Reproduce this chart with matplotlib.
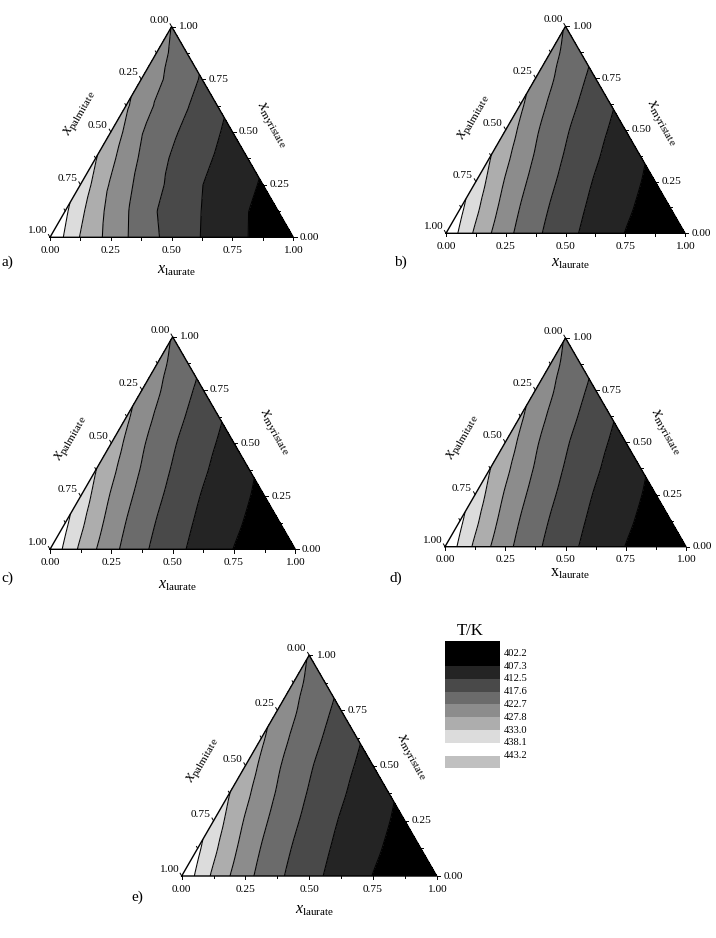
import numpy as np
import matplotlib
matplotlib.use("Agg")
import matplotlib.pyplot as plt
import matplotlib.tri as mtri

plt.rcParams["font.family"] = ["Liberation Serif", "DejaVu Serif"]
plt.rcParams["mathtext.fontset"] = "custom"
plt.rcParams["mathtext.rm"] = "Liberation Serif"
plt.rcParams["mathtext.it"] = "Liberation Serif:italic"

# contour levels (T/K) and the grey used for each band (below first .. above last)
LEVELS = [402.2, 407.3, 412.5, 417.6, 422.7, 427.8, 433.0, 438.1, 443.2]
BAND_COLORS = ["#000000", "#000000", "#242424", "#494949", "#6b6b6b",
               "#8c8c8c", "#adadad", "#dcdcdc", "#ffffff", "#c0c0c0"]

# composition grid: row j has x_myristate = X_MYRISTATE[j],
# entries i have x_laurate = X_LAURATE[i] (x_palmitate = 1 - the two)
X_MYRISTATE = [0.0, 0.125, 0.25, 0.375, 0.5, 0.625, 0.75, 0.875, 1.0]
X_LAURATE = [0.0, 0.125, 0.25, 0.375, 0.5, 0.625, 0.75, 0.875, 1.0]

# T/K read off panel a)
T_A = [
    [442.3, 432.7, 425.9, 420.3, 415.8, 412.3, 409.0, 405.7, 403.0],
    [439.0, 429.6, 423.2, 417.7, 414.1, 410.7, 407.4, 404.9],
    [436.1, 427.2, 421.0, 416.5, 412.6, 409.6, 406.8],
    [433.3, 425.0, 419.2, 415.3, 412.0, 408.9],
    [430.9, 423.0, 418.4, 414.7, 411.1],
    [428.5, 422.1, 417.9, 413.7],
    [426.4, 421.3, 417.1],
    [424.5, 419.9],
    [422.6],
]

# T/K read off panels b) - e) (they are practically the same)
T_B = [
    [442.3, 432.0, 424.4, 418.7, 414.2, 410.5, 407.2, 404.8, 402.3],
    [439.1, 429.7, 422.5, 417.3, 413.1, 409.7, 406.7, 404.2],
    [436.0, 427.3, 421.0, 416.2, 412.1, 408.9, 406.0],
    [433.1, 425.4, 419.6, 415.1, 411.3, 408.0],
    [430.7, 423.4, 418.2, 414.0, 410.5],
    [428.6, 421.9, 417.2, 413.1],
    [426.5, 420.6, 416.2],
    [424.3, 419.4],
    [422.4],
]
T_C = T_B
T_D = T_B
T_E = T_B

TICKS = [0.0, 0.125, 0.25, 0.375, 0.5, 0.625, 0.75, 0.875, 1.0]
H = np.sqrt(3) / 2
W, HGT = 716, 938


def px(v):
    return v * 0.72


def to_xy(lau, myr):
    return lau + 0.5 * myr, H * myr


def build_grid(temps):
    xs, ys, vals, index = [], [], [], {}
    for j, row in enumerate(temps):
        for i, t in enumerate(row):
            x, y = to_xy(X_LAURATE[i], X_MYRISTATE[j])
            index[(i, j)] = len(xs)
            xs.append(x)
            ys.append(y)
            vals.append(t)
    n = len(temps) - 1
    tris = []
    for j in range(n):
        for i in range(n - j):
            tris.append([index[(i, j)], index[(i + 1, j)], index[(i, j + 1)]])
            if i + j < n - 1:
                tris.append([index[(i + 1, j)], index[(i + 1, j + 1)], index[(i, j + 1)]])
    return mtri.Triangulation(xs, ys, tris), np.array(vals)


def draw_ternary(fig, left, bottom, right, spec):
    width = right - left
    height = width * H
    ax = fig.add_axes([left / W, 1 - bottom / HGT, width / W, height / HGT])
    ax.set_xlim(0, 1)
    ax.set_ylim(0, H)
    ax.axis("off")

    tri, vals = build_grid(spec["temps"])
    if spec["smooth"]:
        # smooth contours like the fitted-model panels
        interp = mtri.CubicTriInterpolator(tri, vals, kind="geom")
        tri, vals = mtri.UniformTriRefiner(tri).refine_field(vals, triinterpolator=interp, subdiv=3)
    ax.tricontourf(tri, vals, levels=LEVELS, colors=BAND_COLORS, extend="both")
    ax.tricontour(tri, vals, levels=LEVELS, colors="k", linewidths=0.75)
    ax.plot([0, 1, 0.5, 0], [0, 0, H, 0], color="k", lw=1.0, clip_on=False)

    tl = 3.2 / width
    for v in TICKS:
        major = abs(v * 4 - round(v * 4)) < 1e-9
        f = 1.0 if major else 0.7
        # bottom axis: x_laurate
        ax.plot([v, v], [0, -tl * f], color="k", lw=0.7, clip_on=False)
        # right axis: x_myristate
        rx, ry = to_xy(1 - v, v)
        ax.plot([rx, rx + tl * f], [ry, ry], color="k", lw=0.7, clip_on=False)
        # left axis: x_palmitate
        lx, ly = to_xy(0, 1 - v)
        ax.plot([lx, lx - 0.5 * tl * f], [ly, ly + H * tl * f], color="k", lw=0.7, clip_on=False)
        if not major:
            continue
        lab = f"{v:.2f}"
        ax.annotate(lab, (v, 0), xytext=(0, px(-13)), textcoords="offset points",
                    ha="center", va="center", fontsize=8.2)
        ax.annotate(lab, (rx, ry), xytext=(px(6.5), 0), textcoords="offset points",
                    ha="left", va="center", fontsize=8.2)
        ax.annotate(lab, (lx, ly), xytext=(px(-3), px(6.5)), textcoords="offset points",
                    ha="right", va="center", fontsize=8.2)

    xsym = r"\mathrm{x}" if spec["upright"] else r"x"
    bx, by = spec["lau_off"]
    ax.annotate(rf"${xsym}_{{\mathrm{{laurate}}}}$", (0.5, 0), xytext=(px(bx), px(-by)),
                textcoords="offset points", ha="center", va="center", fontsize=11.5)
    lx, ly = spec["pal_off"]
    ax.annotate(r"$x_{\mathrm{palmitate}}$", (0.25, H / 2), xytext=(px(lx), px(ly)),
                textcoords="offset points", ha="center", va="center", fontsize=11.5,
                rotation=60, rotation_mode="anchor")
    mx, my = spec["myr_off"]
    ax.annotate(r"$x_{\mathrm{myristate}}$", (0.75, H / 2), xytext=(px(mx), px(my)),
                textcoords="offset points", ha="center", va="center", fontsize=11.5,
                rotation=-60, rotation_mode="anchor")
    fig.text(spec["tag_xy"][0] / W, 1 - spec["tag_xy"][1] / HGT, spec["tag"],
             ha="left", va="center", fontsize=11)


PANELS = [
    dict(tag="a)", temps=T_A, tri=(50, 237.3, 293.3), upright=False, smooth=False,
         lau_off=(5, 33), pal_off=(-31, 19), myr_off=(39, 7), tag_xy=(1, 262)),
    dict(tag="b)", temps=T_B, tri=(446, 233.3, 685), upright=False, smooth=True,
         lau_off=(5, 30), pal_off=(-32, 13), myr_off=(36, 7), tag_xy=(394, 262)),
    dict(tag="c)", temps=T_C, tri=(50, 549.3, 295.3), upright=False, smooth=True,
         lau_off=(5, 36), pal_off=(-41, 5), myr_off=(41, 11), tag_xy=(1, 578)),
    dict(tag="d)", temps=T_D, tri=(445, 546.7, 686), upright=True, smooth=True,
         lau_off=(5, 26), pal_off=(-43, 5), myr_off=(40, 10), tag_xy=(389, 578)),
    dict(tag="e)", temps=T_E, tri=(181.7, 876, 436.7), upright=False, smooth=True,
         lau_off=(5, 34), pal_off=(-43, 5), myr_off=(39, 9), tag_xy=(131, 897)),
]

fig = plt.figure(figsize=(W / 100, HGT / 100), dpi=100)
for p in PANELS:
    l, b, r = p["tri"]
    draw_ternary(fig, l, b, r, p)

# legend block, one row per band
lg = fig.add_axes([445 / W, 1 - 768.3 / HGT, 55 / W, 127.6 / HGT])
rows = np.arange(len(BAND_COLORS))
lg.barh(rows + 0.5, 1, height=1, color=BAND_COLORS, left=0)
lg.set_xlim(0, 1)
lg.set_ylim(len(BAND_COLORS), 0)
lg.axis("off")
for k, lev in enumerate(LEVELS):
    lg.text(1.07, k + 1, f"{lev:.1f}", ha="left", va="center", fontsize=7.6)
lg.text(0.45, -0.75, "T/K", ha="center", va="center", fontsize=12)

fig.savefig("out.png", dpi=100)
